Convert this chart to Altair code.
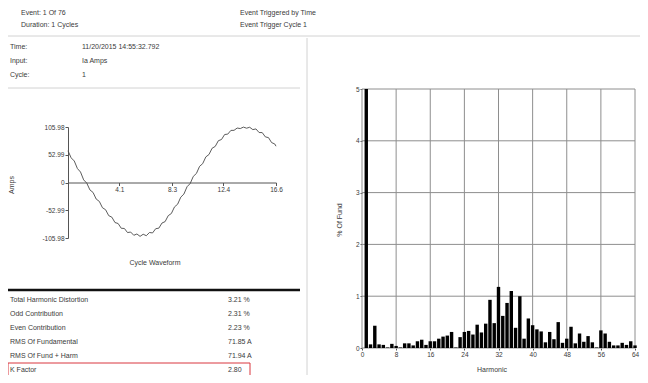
import altair as alt
import pandas as pd

FONT = "Liberation Sans"
W, H = 632, 367
TXT = "#3a3a3a"

# ---------------- data ----------------
header_left = ["Event: 1  Of 76", "Duration: 1 Cycles"]
header_right = ["Event Triggered by Time", "Event Trigger Cycle 1"]
header_rows = [0, 1]

info_labels = ["Time:", "Input:", "Cycle:"]
info_values = ["11/20/2015 14:55:32.792", "Ia Amps", "1"]
info_rows = [0, 1, 2]

wave_t = [0, 0.25, 0.5, 0.75, 1.0, 1.25, 1.5, 1.75, 2.0, 2.25, 2.5, 2.75,
          3.0, 3.25, 3.5, 3.75, 4.0, 4.25, 4.5, 4.75, 5.0, 5.25, 5.5, 5.75,
          6.0, 6.25, 6.5, 6.75, 7.0, 7.25, 7.5, 7.75, 8.0, 8.25, 8.5, 8.75,
          9.0, 9.25, 9.5, 9.75, 10.0, 10.25, 10.5, 10.75, 11.0, 11.25, 11.5, 11.75,
          12.0, 12.25, 12.5, 12.75, 13.0, 13.25, 13.5, 13.75, 14.0, 14.25, 14.5, 14.75,
          15.0, 15.25, 15.5, 15.75, 16.0, 16.25, 16.5, 16.6]
wave_amps = [60.6, 47.1, 41.1, 26.7, 20.0, 5.0, -1.2, -14.2, -19.0, -31.6, -36.1, -48.2,
             -52.0, -63.3, -66.2, -76.5, -78.3, -87.4, -87.8, -95.6, -94.6, -100.8, -98.3, -102.9,
             -98.8, -101.6, -95.5, -96.3, -88.2, -87.2, -77.4, -74.7, -63.3, -59.2, -46.6, -41.5,
             -28.0, -22.1, -8.1, -2.0, 11.7, 17.3, 30.8, 36.0, 48.9, 53.4, 65.4, 68.9,
             79.8, 82.1, 91.6, 92.4, 99.5, 99.6, 104.0, 103.0, 105.8, 103.7, 105.5, 101.0,
             102.3, 95.4, 95.3, 87.1, 85.7, 76.2, 73.6, 69.3]
amp_ticks = [-105.98, -52.99, 0, 52.99, 105.98]
time_ticks = [4.1, 8.3, 12.4, 16.6]

harmonics = list(range(1, 65))
pct_of_fund = [100, 0.07, 0.43, 0.07, 0.06, 0.01, 0.08, 0.04, 0.01, 0.09,
               0.09, 0.05, 0.13, 0.16, 0.06, 0.13, 0.13, 0.18, 0.22, 0.24,
               0.31, 0.01, 0.21, 0.31, 0.33, 0.26, 0.45, 0.30, 0.47, 0.93,
               0.48, 1.18, 0.62, 0.87, 1.10, 0.39, 1.00, 0.18, 0.57, 0.44,
               0.36, 0.32, 0.11, 0.31, 0.17, 0.50, 0.10, 0.18, 0.41, 0.09,
               0.28, 0.12, 0.23, 0.11, 0.01, 0.34, 0.28, 0.12, 0.05, 0.05,
               0.10, 0.06, 0.13, 0.05]
harmonic_ticks = [0, 8, 16, 24, 32, 40, 48, 56, 64]
pct_ticks = [0, 1, 2, 3, 4, 5]

summary_labels = ["Total Harmonic Distortion", "Odd Contribution", "Even Contribution",
                  "RMS Of Fundamental", "RMS Of Fund + Harm", "K Factor"]
summary_values = ["3.21 %", "2.31 %", "2.23 %", "71.85 A", "71.94 A", "2.80"]
summary_rows = [0, 1, 2, 3, 4, 5]


def label(text, x, y, size=7, align="left", angle=0, color=TXT):
    return alt.Chart().mark_text(text=text, align=align, baseline="middle", fontSize=size,
                                 font=FONT, color=color, angle=angle).encode(
        x=alt.value(x), y=alt.value(y))


def rows_text(df, field, x, scale, align="left"):
    return alt.Chart(df).mark_text(align=align, baseline="middle", fontSize=7, font=FONT,
                                   color=TXT).encode(
        x=alt.value(x), y=alt.Y("row:Q", scale=scale, axis=None), text=f"{field}:N")


# ---------------- separators ----------------
sep_top = alt.Chart().mark_rule(color="#d2d2d2", strokeWidth=1).encode(
    x=alt.value(0), x2=alt.value(W), y=alt.value(28))
sep_vert = alt.Chart().mark_rule(color="#d2d2d2", strokeWidth=1).encode(
    x=alt.value(299), y=alt.value(30), y2=alt.value(H))
sep_info = alt.Chart().mark_rule(color="#d2d2d2", strokeWidth=1).encode(
    x=alt.value(0), x2=alt.value(292), y=alt.value(80))
sep_thick = alt.Chart().mark_rule(color="#111111", strokeWidth=2.5).encode(
    x=alt.value(0), x2=alt.value(292), y=alt.value(282))

# ---------------- header & info ----------------
header_df = pd.DataFrame({"left": header_left, "right": header_right, "row": header_rows})
header_scale = alt.Scale(domain=[0, 1], range=[4.5, 17], nice=False, zero=False)
hdr_l = rows_text(header_df, "left", 13, header_scale)
hdr_r = rows_text(header_df, "right", 232, header_scale)

info_df = pd.DataFrame({"label": info_labels, "value": info_values, "row": info_rows})
info_scale = alt.Scale(domain=[0, 2], range=[39, 67], nice=False, zero=False)
info_l = rows_text(info_df, "label", 2, info_scale)
info_v = rows_text(info_df, "value", 74, info_scale)

# ---------------- waveform ----------------
wave_df = pd.DataFrame({"t": wave_t, "amps": wave_amps})
wave_x = alt.Scale(domain=[0, 16.6], range=[60, 268], nice=False, zero=False)
wave_y = alt.Scale(domain=[-105.98, 105.98], range=[230, 119], nice=False, zero=False)
wave = alt.Chart(wave_df).mark_line(color="#4a4a4a", strokeWidth=0.9).encode(
    x=alt.X("t:Q", scale=wave_x,
            axis=alt.Axis(orient="bottom", offset=174.5 - H, values=time_ticks, format=".1f",
                          title=None, grid=False, tickSize=3, labelFlush=False,
                          labelOverlap=False, labelPadding=1)),
    y=alt.Y("amps:Q", scale=wave_y,
            axis=alt.Axis(orient="left", offset=-60, values=amp_ticks, title=None, grid=False,
                          tickSize=3, labelFlush=False, labelOverlap=False, labelPadding=1,
                          labelExpr="datum.value == 0 ? '0' : (datum.value < 0 ? '-' : '') + format(abs(datum.value), '.2f')")),
)
amps_title = label("Amps", 4, 177, angle=270, align="center")
wave_title = label("Cycle Waveform", 147, 255, align="center")

# ---------------- harmonic spectrum ----------------
spec_df = pd.DataFrame({"h": harmonics, "pct": pct_of_fund})
spec_x = alt.Scale(domain=[0, 64], range=[354, 627], nice=False, zero=False)
spec_y = alt.Scale(domain=[0, 5], range=[340, 81], nice=False, zero=False, clamp=True)

vgrid_df = pd.DataFrame({"h": harmonic_ticks, "lo": pct_ticks[0], "hi": pct_ticks[-1]})
vgrid = alt.Chart(vgrid_df).mark_rule(color="#8e8e8e", strokeWidth=1).encode(
    x=alt.X("h:Q", scale=spec_x,
            axis=alt.Axis(orient="bottom", offset=340 - H, values=harmonic_ticks, title=None,
                          grid=False, domain=False, tickSize=2, labelFlush=False,
                          labelOverlap=False, labelPadding=1)),
    y=alt.Y("lo:Q", scale=spec_y, axis=None),
    y2="hi:Q",
)
hgrid_df = pd.DataFrame({"p": pct_ticks, "lo": harmonic_ticks[0], "hi": harmonic_ticks[-1]})
hgrid = alt.Chart(hgrid_df).mark_rule(color="#8e8e8e", strokeWidth=1).encode(
    y=alt.Y("p:Q", scale=spec_y,
            axis=alt.Axis(orient="left", offset=-354, values=pct_ticks, title=None, grid=False,
                          domain=False, tickSize=2, labelFlush=False, labelOverlap=False,
                          labelPadding=1)),
    x=alt.X("lo:Q", scale=spec_x, axis=None),
    x2="hi:Q",
)
bars = alt.Chart(spec_df).transform_calculate(
    lo="datum.h - 0.4", hi="datum.h + 0.4", base="0"
).mark_rect(color="#000000").encode(
    x=alt.X("lo:Q", scale=spec_x, axis=None),
    x2="hi:Q",
    y=alt.Y("pct:Q", scale=spec_y, axis=None),
    y2="base:Q",
)
pct_title = label("% Of Fund", 332, 212, angle=270, align="center")
harm_title = label("Harmonic", 484, 362, align="center")

# ---------------- summary table ----------------
table_df = pd.DataFrame({"label": summary_labels, "value": summary_values, "row": summary_rows})
row_scale = alt.Scale(domain=[0, 5], range=[292, 362], nice=False, zero=False)
tbl_l = rows_text(table_df, "label", 2, row_scale)
tbl_v = rows_text(table_df, "value", 220, row_scale)
kbox = alt.Chart(table_df).transform_filter("datum.label == 'K Factor'").transform_calculate(
    top="datum.row - 0.5", bot="datum.row + 0.5"
).mark_rect(fillOpacity=0, stroke="#d9363e", strokeWidth=1).encode(
    x=alt.value(0), x2=alt.value(242),
    y=alt.Y("top:Q", scale=row_scale, axis=None),
    y2="bot:Q",
)

chart = alt.layer(
    sep_top, sep_vert, sep_info, sep_thick,
    hdr_l, hdr_r, info_l, info_v,
    wave, amps_title, wave_title,
    vgrid, hgrid, bars, pct_title, harm_title,
    tbl_l, tbl_v, kbox,
).resolve_scale(
    x="independent", y="independent"
).resolve_axis(
    x="independent", y="independent"
).properties(
    width=W, height=H, autosize="none", padding=0, background="white"
).configure_view(stroke=None).configure_axis(
    labelFont=FONT, labelFontSize=6.5, labelColor=TXT,
    domainColor="#555555", tickColor="#555555", domainWidth=1, tickWidth=1,
)

chart.save("out.html", embed_options={"renderer": "svg", "actions": False})
